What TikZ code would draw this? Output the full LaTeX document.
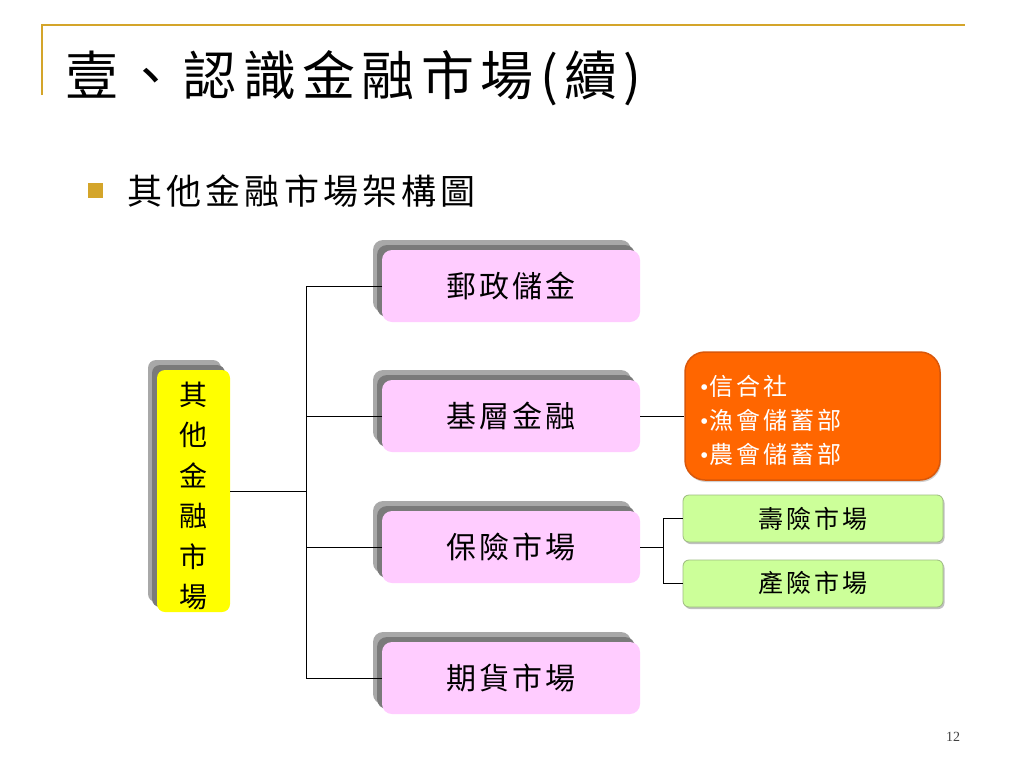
\documentclass[tikz,border=0pt]{standalone}
\usepackage{fontspec}
\setmainfont{Liberation Serif}
\newfontfamily\cjk{Noto Sans CJK TC}
\newfontfamily\cjksp[LetterSpace=10]{Noto Sans CJK TC}
\newfontfamily\cjkwide[LetterSpace=13]{Noto Sans CJK TC}
\newfontfamily\cjktitle[LetterSpace=12]{Noto Sans CJK TC}
\newcommand{\bul}{{\rmfamily\char"2022}\kern1pt}
\usetikzlibrary{shadows}
\definecolor{gold}{HTML}{D4A52A}
\definecolor{pinkfill}{HTML}{FFCCFF}
\definecolor{yelfill}{HTML}{FFFF00}
\definecolor{orgfill}{HTML}{FF6600}
\definecolor{orgdraw}{HTML}{D9570A}
\definecolor{grnfill}{HTML}{CCFF99}
\definecolor{grndraw}{HTML}{9DBB80}
\definecolor{shlight}{HTML}{A8A8A8}
\definecolor{shdark}{HTML}{7A7A7A}
\begin{document}
\begin{tikzpicture}[x=1pt,y=-1pt,
  extrude/.style={
    copy shadow={shadow xshift=-9pt,shadow yshift=10pt,fill=shlight,draw=none},
    copy shadow={shadow xshift=-5pt,shadow yshift=5pt,fill=shdark,draw=none}},
  pinkbox/.style={extrude,fill=pinkfill,draw=none,rounded corners=10pt,
    minimum width=258pt,minimum height=72pt,inner sep=0pt,
    font=\cjksp\fontsize{30}{34}\selectfont},
  yelbox/.style={extrude,fill=yelfill,draw=none,rounded corners=8pt,
    minimum width=73pt,minimum height=242pt,inner sep=0pt,align=center,
    font=\cjk\fontsize{28}{40.5}\selectfont},
  orgbox/.style={fill=orgfill,draw=orgdraw,line width=1.5pt,rounded corners=20pt,
    minimum height=128pt,text width=225pt,inner xsep=15pt,align=left,
    text=white,font=\cjkwide\fontsize{24}{34}\selectfont,
    drop shadow={shadow xshift=1pt,shadow yshift=-2pt,fill=gray!60,opacity=0.6}},
  grnbox/.style={fill=grnfill,draw=grndraw,line width=0.8pt,rounded corners=6pt,
    minimum width=260pt,minimum height=47pt,inner sep=0pt,
    font=\cjkwide\fontsize{25}{30}\selectfont,
    drop shadow={shadow xshift=1.5pt,shadow yshift=-2pt,fill=gray!70,opacity=0.7}},
  conn/.style={draw=black,line width=1pt}
]
\useasboundingbox (0,0) rectangle (1024,768);
\fill[white] (0,0) rectangle (1024,768);
% header rule
\draw[gold,line width=2pt] (42,95) -- (42,25) -- (965,25);
% title
\node[anchor=west,inner sep=0pt,font=\cjktitle\fontsize{53}{60}\selectfont] (title) at (65,78) {壹、認識金融市場(續)};
% bullet + subtitle
\fill[gold] (88,183) rectangle (103,198);
\node[anchor=west,inner sep=0pt,font=\cjktitle\fontsize{35}{40}\selectfont] (sub) at (127,191) {其他金融市場架構圖};
% nodes
\node[yelbox] (yel) at (193.5,491) {\rule{0pt}{33pt}其\\他\\金\\融\\市\\場};
\node[pinkbox] (b1) at (511,286) {郵政儲金};
\node[pinkbox] (b2) at (511,416) {基層金融};
\node[pinkbox] (b3) at (511,547) {保險市場};
\node[pinkbox] (b4) at (511,678) {期貨市場};
\node[orgbox] (org) at (812.5,416) {\rule{0pt}{30pt}\bul 信合社\\\bul 漁會儲蓄部\\\bul 農會儲蓄部};
\node[grnbox] (gA) at (813,518.5) {壽險市場};
\node[grnbox] (gB) at (813,583.5) {產險市場};
% junctions
\coordinate (jt) at (306,491);
\coordinate (j2) at (663,547);
% connectors
\draw[conn] (yel.east) -- (jt);
\draw[conn] (b1.west) -| (jt);
\draw[conn] (b4.west) -| (jt);
\draw[conn] (b2.west) -- (b2.west -| jt);
\draw[conn] (b3.west) -- (b3.west -| jt);
\draw[conn] (b2.east) -- (org.west);
\draw[conn] (b3.east) -- (j2);
\draw[conn] (gA.west) -| (j2);
\draw[conn] (gB.west) -| (j2);
% page number
\node[font=\fontsize{14}{16}\selectfont,text=black!75] (pg) at (953,737) {12};
\end{tikzpicture}
\end{document}
